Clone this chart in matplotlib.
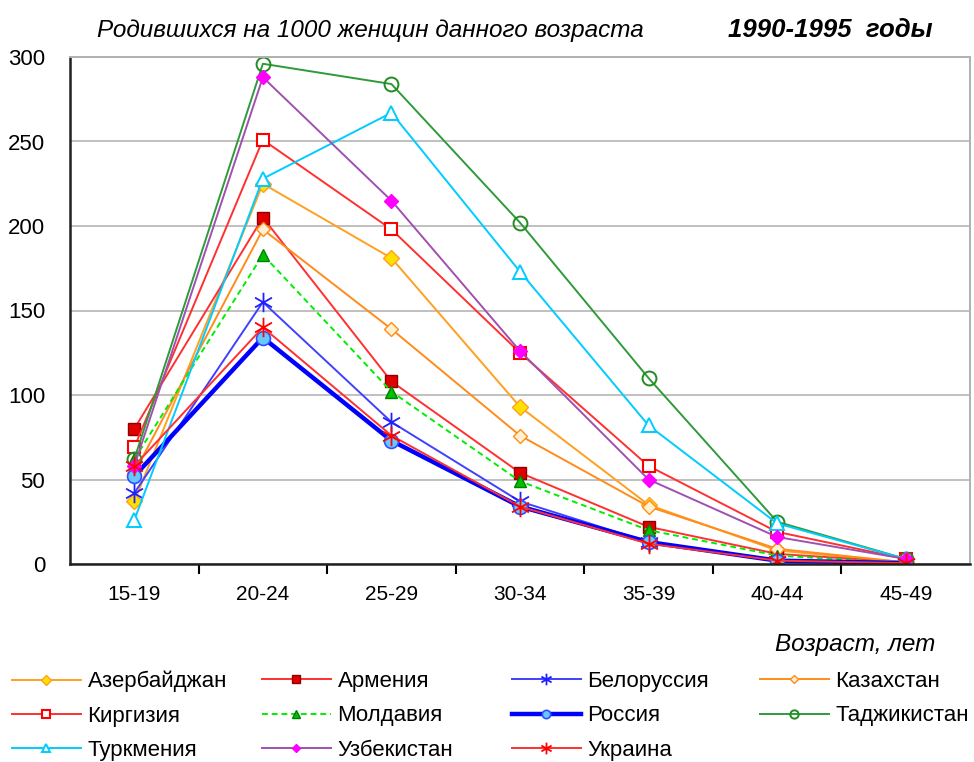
# -*- coding: utf-8 -*-
# Рождаемость по возрастным группам, страны бывшего СССР, 1990-1995
import matplotlib
matplotlib.use("Agg")
import matplotlib.pyplot as plt
import matplotlib.font_manager as fm
from matplotlib.path import Path


# %% Данные

vozrast = ["15-19", "20-24", "25-29", "30-34", "35-39", "40-44", "45-49"]

azerbaijan = [37, 225, 181, 93, 35, 8, 1]
armenia = [80, 205, 108, 54, 22, 6, 1]
belorussia = [42, 155, 84, 37, 13, 2, 0.5]
kazakhstan = [54, 198, 139, 76, 34, 9, 1]
kirgizia = [69, 251, 198, 125, 58, 19, 3]
moldavia = [62, 183, 102, 49, 20, 5, 0.5]
russia = [52, 134, 73, 34, 13, 2, 0.5]
tajikistan = [62, 296, 284, 202, 110, 25, 3]
turkmenia = [26, 228, 267, 173, 82, 24, 3]
uzbekistan = [58, 288, 215, 126, 50, 16, 3]
ukraina = [58, 140, 76, 34, 12, 2, 0.5]


# %% Шрифты

names = {f.name for f in fm.fontManager.ttflist}
narrow = "Liberation Sans Narrow" if "Liberation Sans Narrow" in names else "Liberation Sans"
plt.rcParams["font.family"] = ["Liberation Sans", "DejaVu Sans"]

# звездочка как в Excel: X плюс вертикальная черта
asterisk = Path([(0, -1), (0, 1), (-0.87, -0.5), (0.87, 0.5), (-0.87, 0.5), (0.87, -0.5)],
                [Path.MOVETO, Path.LINETO, Path.MOVETO, Path.LINETO, Path.MOVETO, Path.LINETO])


# %% График

fig = plt.figure(figsize=(9.74, 7.62), dpi=100)
ax = fig.add_axes([70 / 974, 1 - 564 / 762, 900 / 974, 507 / 762])

x = range(len(vozrast))
lw = 1.4

series = [
    ("Азербайджан", azerbaijan, dict(color="#FFA020", lw=lw, marker="D", ms=8, mfc="#FFE000", mec="#FFA020")),
    ("Армения", armenia, dict(color="#FF3030", lw=lw, marker="s", ms=9, mfc="#E00000", mec="#900000")),
    ("Белоруссия", belorussia, dict(color="#4040FF", lw=lw, marker=asterisk, ms=14, mfc="none", mec="#2020FF", mew=1.3)),
    ("Казахстан", kazakhstan, dict(color="#FF8C1A", lw=lw, marker="D", ms=7, mfc="#FFF0D0", mec="#FF8C1A")),
    ("Киргизия", kirgizia, dict(color="#FF3030", lw=lw, marker="s", ms=9, mfc="white", mec="#FF0000", mew=1.5)),
    ("Молдавия", moldavia, dict(color="#00EE00", lw=lw, ls=(0, (3, 2)), marker="^", ms=9, mfc="#00C000", mec="#008000")),
    ("Россия", russia, dict(color="#0000FF", lw=3.2, marker="o", ms=10, mfc="#66C8FF", mec="#3050FF", mew=1.2)),
    ("Таджикистан", tajikistan, dict(color="#2E9B3A", lw=lw, marker="o", ms=10, mfc="none", mec="#228B22", mew=1.4)),
    ("Туркмения", turkmenia, dict(color="#00CCFF", lw=lw, marker="^", ms=10, mfc="white", mec="#00CCFF", mew=1.4)),
    ("Узбекистан", uzbekistan, dict(color="#A050B0", lw=lw, marker="D", ms=7, mfc="#FF00FF", mec="#FF00FF")),
    ("Украина", ukraina, dict(color="#FF3030", lw=lw, marker=asterisk, ms=14, mfc="none", mec="#FF0000", mew=1.3)),
]

lines = {}
for name, vals, style in series:
    (ln,) = ax.plot(x, vals, label=name, **style)
    lines[name] = ln

ax.set_xlim(-0.5, len(vozrast) - 0.5)
ax.set_ylim(0, 300)
ax.set_yticks(range(0, 301, 50))
ax.yaxis.grid(True, color="#C0C0C0", lw=1.4)
ax.set_axisbelow(True)

ax.set_xticks(list(x))
ax.set_xticklabels(vozrast, fontsize=15, family=narrow)
ax.set_xticks([i + 0.5 for i in range(len(vozrast) - 1)], minor=True)
ax.tick_params(axis="x", which="major", length=0, pad=15)
ax.tick_params(axis="x", which="minor", length=7, width=1.5, direction="out")
ax.tick_params(axis="y", length=0, pad=18, labelsize=16)
for t in ax.get_yticklabels():
    t.set_family(narrow)

for side in ["left", "bottom"]:
    ax.spines[side].set_linewidth(1.8)
    ax.spines[side].set_color("#202020")
for side in ["top", "right"]:
    ax.spines[side].set_linewidth(1.4)
    ax.spines[side].set_color("#B0B0B0")

fig.text(97 / 974, 1 - 30 / 762, "Родившихся на 1000 женщин данного возраста",
         fontsize=17.5, style="italic", family=narrow, va="center")
fig.text(933 / 974, 1 - 30 / 762, "1990-1995  годы",
         fontsize=18.5, style="italic", weight="bold", family=narrow, va="center", ha="right")
fig.text(935 / 974, 1 - 645 / 762, "Возраст, лет",
         fontsize=17.5, style="italic", va="center", ha="right")

# легенда: 4 колонки одинаковой ширины, заполнение по строкам
columns = [
    (12, ["Азербайджан", "Киргизия", "Туркмения"]),
    (262, ["Армения", "Молдавия", "Узбекистан"]),
    (512, ["Белоруссия", "Россия", "Украина"]),
    (760, ["Казахстан", "Таджикистан"]),
]
for x0, col in columns:
    leg = fig.legend([lines[n] for n in col], col, loc="upper left",
                     bbox_to_anchor=(x0 / 974, 1 - 671 / 762), frameon=False,
                     fontsize=16, handlelength=3.1, handletextpad=0.3,
                     labelspacing=0.6, markerscale=0.6,
                     borderaxespad=0, borderpad=0)

fig.savefig("out.png", dpi=100)
